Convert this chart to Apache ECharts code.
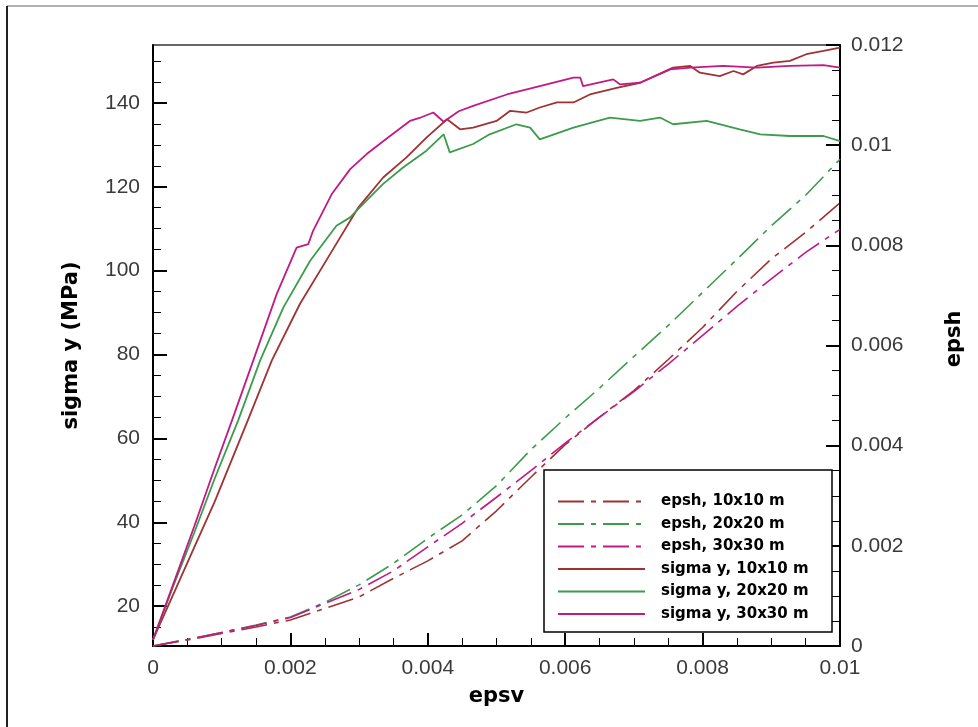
<!DOCTYPE html>
<html><head><meta charset="utf-8">
<script src="https://cdn.jsdelivr.net/npm/echarts@6/dist/echarts.min.js"></script>
<style>html,body{margin:0;padding:0;background:#fff}#c{width:978px;height:727px}</style>
</head><body><div id="c"></div>
<script>
// ---- data ----
const seriesNames = ['epsh, 10x10 m','epsh, 20x20 m','epsh, 30x30 m','sigma y, 10x10 m','sigma y, 20x20 m','sigma y, 30x30 m'];

const epshX  = [0,0.0005,0.001,0.0015,0.002,0.0025,0.003,0.0035,0.004,0.0045,0.005,0.0055,0.006,0.0065,0.007,0.0075,0.008,0.0085,0.009,0.0095,0.01];
const epsh10 = [0,0.00012,0.00025,0.00038,0.00052,0.00075,0.00098,0.00135,0.0017,0.0021,0.0027,0.00337,0.00402,0.00457,0.0051,0.00572,0.00636,0.00708,0.00773,0.00826,0.00885];
const epsh20 = [0,0.00013,0.00027,0.00042,0.00058,0.00087,0.00122,0.00165,0.00215,0.00262,0.0032,0.00392,0.00455,0.00515,0.00578,0.0064,0.00706,0.00772,0.00839,0.009,0.00972];
const epsh30 = [0,0.00013,0.00027,0.00041,0.00057,0.00085,0.00113,0.0015,0.00198,0.00245,0.00297,0.0035,0.00405,0.00457,0.00508,0.00563,0.0062,0.00678,0.00733,0.00786,0.00832];

const sig10X = [0,0.0003,0.0006,0.0009,0.00138,0.00173,0.00214,0.00258,0.00299,0.00335,0.00369,0.00398,0.00428,0.00447,0.00466,0.005,0.0052,0.00544,0.00563,0.00588,0.00612,0.00636,0.00675,0.00709,0.00757,0.00782,0.00796,0.00825,0.00845,0.00859,0.00879,0.00903,0.00927,0.00951,0.00976,0.01];
const sig10Y = [12,23,34,45,64.3,78.6,92.1,104.0,115.1,122.2,127.0,131.7,136.1,133.7,134.1,135.7,138.1,137.7,138.9,140.1,140.1,142.0,143.6,144.8,148.4,148.8,147.2,146.4,147.6,146.8,148.8,149.6,150.0,151.6,152.4,153.2];

const sig20X = [0,0.0003,0.0006,0.0009,0.00124,0.00156,0.0019,0.00229,0.00267,0.00287,0.00301,0.00335,0.00364,0.00398,0.00423,0.00432,0.00466,0.0049,0.00529,0.00549,0.00563,0.00612,0.00665,0.00709,0.00738,0.00757,0.00806,0.00854,0.00884,0.00927,0.00976,0.01];
const sig20Y = [12,25,37.5,50.5,64.3,78.6,91.3,102.4,110.7,112.7,115.1,120.7,124.6,128.6,132.5,128.2,130.2,132.5,134.9,134.1,131.3,134.1,136.5,135.7,136.5,134.9,135.7,133.7,132.5,132.1,132.1,130.9];

const sig30X = [0,0.0003,0.0006,0.0009,0.00115,0.00146,0.0018,0.00209,0.00226,0.00233,0.0026,0.00287,0.00311,0.00345,0.00374,0.00388,0.00408,0.00423,0.00445,0.00466,0.00515,0.00563,0.00612,0.00622,0.00626,0.0067,0.0068,0.00709,0.00753,0.00782,0.0083,0.00879,0.00927,0.00976,0.01];
const sig30Y = [12,25.5,39,53,64.3,78.6,94.4,105.5,106.3,109.5,118.2,124.2,127.8,132.1,135.7,136.4,137.7,135.5,138.0,139.3,142.0,144.0,146.0,146.0,144.0,145.6,144.4,144.8,148.0,148.4,148.8,148.4,148.8,149.0,148.4];

const sigmaMajorTicks = [20,40,60,80,100,120,140];
const sigmaMinorTicks = [15,25,30,35,45,50,55,65,70,75,85,90,95,105,110,115,125,130,135,145,150];

// ---- styling ----
const RED = '#a03232', GREEN = '#3c9c4c', MAG = '#c01a84';
const DASH = [26,7,5,7];
const zip = (xs, ys) => xs.map((x, i) => [x, ys[i]]);

const tickFont = {fontFamily:'Liberation Sans, Arial, sans-serif', fontSize:21, color:'#3a3a3a'};
const nameFont = {fontFamily:'DejaVu Sans, sans-serif', fontWeight:'bold', fontSize:21, color:'#000'};

function lineSeries(name, data, color, yIdx, dashed){
  return {
    name, type:'line', data, yAxisIndex:yIdx, symbol:'none', showSymbol:false,
    lineStyle:{color, width: dashed ? 1.6 : 1.8, type: dashed ? DASH : 'solid'},
    itemStyle:{color, opacity:0}, animation:false
  };
}

const chart = echarts.init(document.getElementById('c'));
chart.setOption({
  animation:false,
  backgroundColor:'#fff',
  grid:{left:153, right:138, top:45, bottom:81, show:true, borderColor:'#333', borderWidth:1.5},
  xAxis:{
    type:'value', min:0, max:0.01, interval:0.002, position:'bottom',
    axisLine:{lineStyle:{color:'#000', width:2}},
    axisTick:{inside:true, length:13, lineStyle:{color:'#000', width:2}},
    minorTick:{show:true, splitNumber:4, length:8, lineStyle:{color:'#000', width:1}},
    splitLine:{show:false}, minorSplitLine:{show:false},
    axisLabel:Object.assign({margin:12}, tickFont),
    name:'epsv', nameLocation:'middle', nameGap:40, nameTextStyle:nameFont
  },
  yAxis:[
    {
      type:'value', min:10.5, max:153.8, position:'left',
      axisLine:{show:true, lineStyle:{color:'#000', width:2}},
      axisTick:{show:true, inside:true, length:14, lineStyle:{color:'#000', width:2}, customValues:sigmaMajorTicks},
      axisLabel:Object.assign({margin:13, customValues:sigmaMajorTicks}, tickFont),
      splitLine:{show:false},
      name:'sigma y (MPa)', nameLocation:'middle', nameGap:71, nameTextStyle:nameFont
    },
    {
      type:'value', min:0, max:0.012, interval:0.002, position:'right',
      axisLine:{show:true, lineStyle:{color:'#000', width:2}},
      axisTick:{show:true, inside:true, length:14, lineStyle:{color:'#000', width:2}},
      minorTick:{show:true, splitNumber:4, length:8, lineStyle:{color:'#000', width:1}},
      axisLabel:Object.assign({margin:11}, tickFont),
      splitLine:{show:false}, minorSplitLine:{show:false},
      name:'epsh', nameLocation:'middle', nameGap:104,
      nameTextStyle:Object.assign({padding:[0,0,0,13]}, nameFont)
    },
    {
      type:'value', min:10.5, max:153.8, position:'left', offset:0,
      axisLine:{show:false},
      axisTick:{show:true, inside:true, length:8, lineStyle:{color:'#000', width:1}, customValues:sigmaMinorTicks},
      axisLabel:{show:false}, splitLine:{show:false}
    }
  ],
  legend:{
    data:seriesNames, orient:'vertical', left:557, top:494, padding:0,
    itemWidth:87, itemHeight:14, itemGap:7.5, selectedMode:false, z:20,
    itemStyle:{opacity:0},
    lineStyle:{width:2},
    textStyle:{fontFamily:'DejaVu Sans, sans-serif', fontWeight:'bold', fontSize:15, color:'#000', padding:[0,0,0,11]}
  },
  graphic:[
    {type:'rect', shape:{x:544, y:470, width:288, height:162}, style:{fill:'#fff', stroke:'#000', lineWidth:1.5}, z:15},
    {type:'line', shape:{x1:7, y1:6, x2:978, y2:6}, style:{stroke:'#999', lineWidth:1.5}, z:1},
    {type:'line', shape:{x1:7, y1:6, x2:7, y2:727}, style:{stroke:'#222', lineWidth:2}, z:1}
  ],
  series:[
    lineSeries(seriesNames[0], zip(epshX, epsh10), RED, 1, true),
    lineSeries(seriesNames[1], zip(epshX, epsh20), GREEN, 1, true),
    lineSeries(seriesNames[2], zip(epshX, epsh30), MAG, 1, true),
    lineSeries(seriesNames[3], zip(sig10X, sig10Y), RED, 0, false),
    lineSeries(seriesNames[4], zip(sig20X, sig20Y), GREEN, 0, false),
    lineSeries(seriesNames[5], zip(sig30X, sig30Y), MAG, 0, false)
  ]
});
</script>
</body></html>
